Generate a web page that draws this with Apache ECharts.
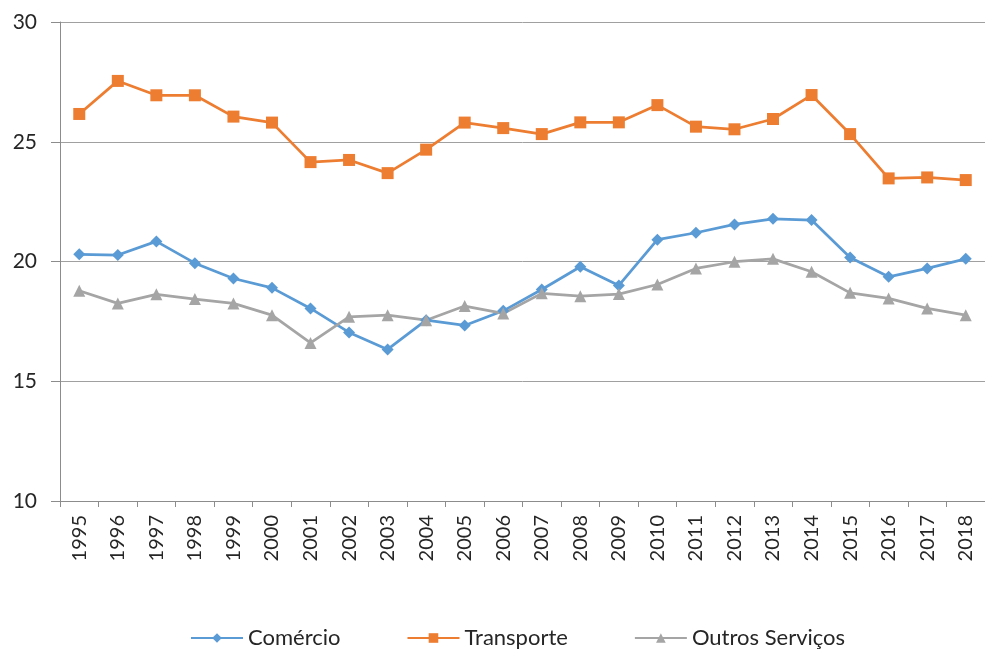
<!DOCTYPE html>
<html>
<head>
<meta charset="utf-8">
<script src="https://cdn.jsdelivr.net/npm/echarts@6/dist/echarts.min.js"></script>
<style>html,body{margin:0;padding:0;background:#fff}#c{width:985px;height:650px}</style>
</head>
<body>
<div id="c"></div>
<script>
const years = ['1995','1996','1997','1998','1999','2000','2001','2002','2003','2004','2005','2006','2007','2008','2009','2010','2011','2012','2013','2014','2015','2016','2017','2018'];
const comercio = [20.3,20.27,20.84,19.93,19.29,18.9,18.04,17.04,16.33,17.55,17.33,17.94,18.83,19.78,19.0,20.91,21.2,21.55,21.78,21.73,20.17,19.36,19.71,20.11];
const transporte = [26.16,27.54,26.94,26.94,26.05,25.8,24.15,24.24,23.69,24.67,25.8,25.57,25.32,25.81,25.81,26.53,25.63,25.52,25.95,26.95,25.32,23.47,23.51,23.4];
const outros = [18.78,18.25,18.63,18.43,18.25,17.76,16.6,17.69,17.76,17.55,18.14,17.83,18.67,18.55,18.64,19.04,19.71,19.99,20.11,19.57,18.69,18.46,18.04,17.76];
const seriesNames = ['Comércio','Transporte','Outros Serviços'];
const yTicks = {min:10, max:30, interval:5};

const font = 'Lato, "Open Sans", sans-serif';
const chart = echarts.init(document.getElementById('c'), null, {renderer:'canvas'});
function mk(name, data, color, symbol, size){
  return {name, type:'line', data, symbol, symbolSize:size, showAllSymbol:true,
    lineStyle:{color, width:2.75}, itemStyle:{color, borderWidth:0}, animation:false};
}
chart.setOption({
  animation:false,
  grid:{left:60, top:22, right:-9, bottom:149, containLabel:false},
  legend:{
    top:622, left:185, itemWidth:52, itemHeight:12, itemGap:66,
    textStyle:{fontFamily:font, fontSize:22, color:'#262626'},
    data:seriesNames
  },
  xAxis:{
    type:'category', data:years, boundaryGap:true,
    axisLine:{lineStyle:{color:'#8c8c8c', width:1}},
    axisTick:{show:true, interval:0, length:6, lineStyle:{color:'#8c8c8c'}},
    axisLabel:{rotate:90, interval:0, margin:14, fontFamily:font, fontSize:20, color:'#262626'}
  },
  yAxis:{
    type:'value', min:yTicks.min, max:yTicks.max, interval:yTicks.interval,
    axisLine:{show:true, lineStyle:{color:'#8c8c8c', width:1}},
    axisTick:{show:true, length:9, lineStyle:{color:'#8c8c8c'}},
    splitLine:{lineStyle:{color:'#a0a0a0', width:1}},
    axisLabel:{margin:23, fontFamily:font, fontSize:21, color:'#262626'}
  },
  series:[
    mk(seriesNames[0], comercio, '#5B9BD5', 'diamond', 12),
    mk(seriesNames[1], transporte, '#ED7D31', 'rect', 12),
    mk(seriesNames[2], outros, '#A5A5A5', 'triangle', 12)
  ]
});
</script>
</body>
</html>
